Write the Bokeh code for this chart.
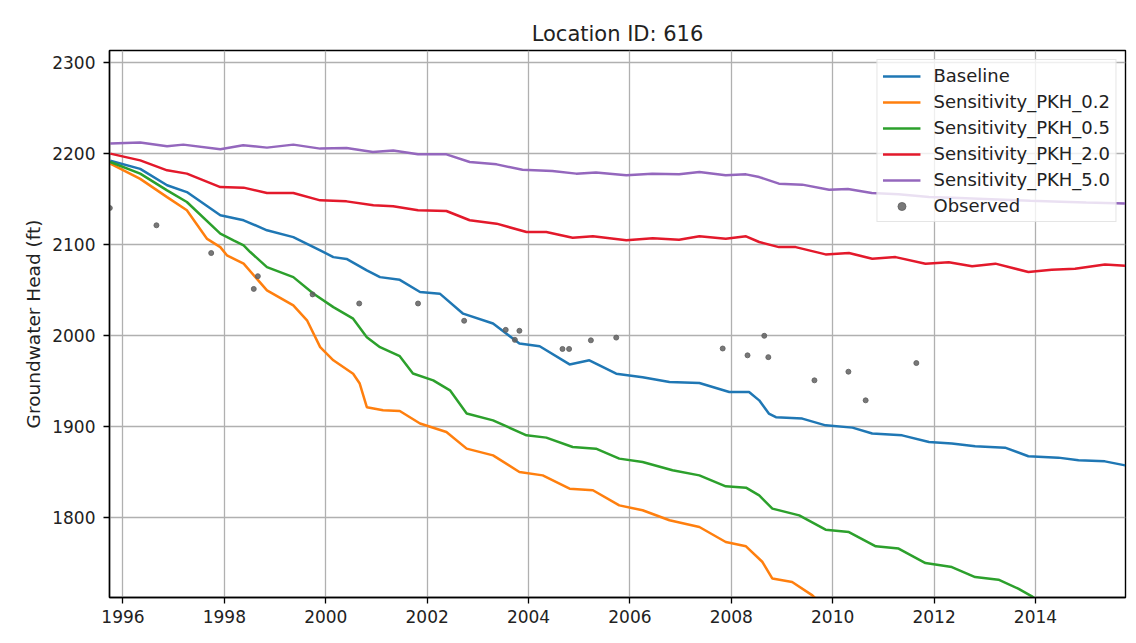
from bokeh.plotting import figure
from bokeh.models import Range1d, FixedTicker, Legend, LegendItem
from bokeh.embed import file_html
from bokeh.resources import INLINE

# ---------------- data (decimal years, feet) ----------------
base_x = [1995.75, 1996.34, 1996.87, 1997.26, 1997.92, 1998.38, 1998.84, 1999.36, 1999.89, 2000.15,
          2000.41, 2000.81, 2001.07, 2001.46, 2001.86, 2002.25, 2002.71, 2003.30, 2003.82, 2004.22,
          2004.81, 2005.20, 2005.73, 2006.25, 2006.78, 2007.37, 2007.96, 2008.35, 2008.55, 2008.74,
          2008.88, 2009.40, 2009.86, 2010.39, 2010.78, 2011.37, 2011.90, 2012.35, 2012.81, 2013.40,
          2013.86, 2014.45, 2014.85, 2015.37, 2015.77]
base_y = [2192.0, 2183.0, 2165.0, 2157.5, 2132.0, 2126.5, 2115.5, 2108.0, 2093.5, 2086.0,
          2084.0, 2071.5, 2064.0, 2061.0, 2047.6, 2045.8, 2023.8, 2013.0, 1991.0, 1988.0,
          1968.0, 1972.5, 1957.8, 1954.0, 1948.7, 1947.6, 1937.7, 1937.7, 1928.5, 1914.0,
          1910.0, 1908.4, 1901.0, 1898.5, 1892.0, 1890.0, 1882.7, 1881.0, 1878.0, 1876.5,
          1867.0, 1865.5, 1862.5, 1861.4, 1857.0]

pkh02_x = [1995.75, 1996.34, 1996.87, 1997.26, 1997.66, 1997.92, 1998.05, 1998.38, 1998.84, 1999.36,
           1999.63, 1999.89, 2000.15, 2000.54, 2000.67, 2000.81, 2001.13, 2001.46, 2001.86, 2002.38,
           2002.78, 2003.30, 2003.82, 2004.28, 2004.81, 2005.27, 2005.79, 2006.25, 2006.78, 2007.37,
           2007.89, 2008.29, 2008.61, 2008.81, 2009.20, 2009.60, 2009.90]
pkh02_y = [2188.8, 2172.0, 2152.0, 2137.5, 2106.0, 2097.0, 2088.0, 2078.8, 2049.5, 2033.0,
           2016.5, 1987.0, 1972.5, 1957.8, 1947.0, 1921.0, 1917.5, 1916.8, 1903.0, 1893.7,
           1875.4, 1868.0, 1849.7, 1846.0, 1831.4, 1829.6, 1813.0, 1807.6, 1796.6, 1789.2,
           1772.7, 1768.0, 1751.0, 1732.5, 1728.7, 1714.0, 1698.0]

pkh05_x = [1995.75, 1996.34, 1996.87, 1997.26, 1997.92, 1998.18, 1998.38, 1998.51, 1998.84, 1999.36,
           1999.76, 2000.15, 2000.54, 2000.81, 2001.07, 2001.46, 2001.72, 2002.12, 2002.45, 2002.78,
           2003.30, 2003.96, 2004.35, 2004.87, 2005.33, 2005.79, 2006.25, 2006.84, 2007.37, 2007.89,
           2008.29, 2008.55, 2008.81, 2009.34, 2009.86, 2010.32, 2010.85, 2011.30, 2011.83, 2012.35,
           2012.81, 2013.27, 2013.66, 2013.93, 2014.20]
pkh05_y = [2190.6, 2177.8, 2159.4, 2146.6, 2111.8, 2104.5, 2099.0, 2091.6, 2075.0, 2064.0,
           2045.8, 2031.0, 2018.3, 1998.0, 1987.0, 1977.0, 1958.0, 1950.5, 1939.5, 1914.0,
           1906.5, 1890.0, 1887.5, 1877.2, 1875.4, 1864.4, 1860.7, 1851.6, 1846.0, 1834.0,
           1832.5, 1824.0, 1809.4, 1802.0, 1786.3, 1783.7, 1768.0, 1765.5, 1749.6, 1745.2,
           1734.2, 1731.3, 1721.4, 1713.0, 1700.0]

pkh20_x = [1995.75, 1996.34, 1996.87, 1997.26, 1997.92, 1998.38, 1998.84, 1999.36, 1999.89, 2000.41,
           2000.94, 2001.33, 2001.82, 2002.38, 2002.84, 2003.37, 2003.96, 2004.35, 2004.87, 2005.27,
           2005.93, 2006.45, 2006.97, 2007.37, 2007.89, 2008.29, 2008.55, 2008.94, 2009.27, 2009.86,
           2010.32, 2010.78, 2011.24, 2011.83, 2012.29, 2012.75, 2013.21, 2013.86, 2014.32, 2014.78,
           2015.37, 2015.77]
pkh20_y = [2199.8, 2192.4, 2181.4, 2177.8, 2163.0, 2162.4, 2156.5, 2156.5, 2148.4, 2147.3,
           2143.0, 2142.0, 2137.5, 2136.7, 2126.5, 2122.8, 2113.6, 2113.6, 2107.4, 2108.9,
           2104.5, 2106.7, 2105.2, 2108.9, 2106.3, 2108.9, 2102.6, 2097.0, 2097.0, 2089.0,
           2090.5, 2084.3, 2086.0, 2078.8, 2080.3, 2075.9, 2078.8, 2069.6, 2072.2, 2073.3,
           2078.0, 2076.5]

pkh50_x = [1995.75, 1996.34, 1996.87, 1997.19, 1997.92, 1998.37, 1998.84, 1999.36, 1999.89, 2000.41,
           2000.93, 2001.33, 2001.82, 2002.38, 2002.84, 2003.37, 2003.88, 2004.47, 2004.94, 2005.33,
           2005.93, 2006.44, 2006.97, 2007.37, 2007.89, 2008.29, 2008.55, 2008.94, 2009.40, 2009.93,
           2010.30, 2010.77, 2011.30, 2011.90, 2012.50, 2013.00, 2013.90, 2014.50, 2015.00, 2015.77]
pkh50_y = [2210.8, 2212.0, 2208.0, 2209.7, 2204.5, 2209.0, 2206.4, 2209.7, 2205.3, 2206.0,
           2201.6, 2203.2, 2199.0, 2199.0, 2190.6, 2188.0, 2182.0, 2180.7, 2177.8, 2179.0,
           2176.0, 2177.8, 2177.0, 2179.6, 2176.0, 2177.0, 2174.0, 2166.8, 2165.7, 2160.0,
           2161.0, 2156.5, 2155.0, 2152.0, 2151.0, 2150.0, 2148.0, 2147.0, 2146.0, 2145.0]

obs_x = [1995.74, 1996.66, 1997.74, 1998.58, 1998.66, 1999.74, 2000.66, 2001.82, 2002.73, 2003.55,
         2003.73, 2003.82, 2004.67, 2004.80, 2005.23, 2005.73, 2007.83, 2008.32, 2008.65, 2008.73,
         2009.64, 2010.31, 2010.65, 2011.65]
obs_y = [2140.0, 2121.0, 2090.5, 2051.0, 2065.0, 2045.0, 2035.0, 2035.0, 2016.0, 2006.0,
         1995.0, 2005.0, 1985.0, 1985.0, 1994.5, 1997.5, 1985.5, 1978.0, 1999.5, 1976.0,
         1950.5, 1960.0, 1928.5, 1969.5]

x_ticks = [1996, 1998, 2000, 2002, 2004, 2006, 2008, 2010, 2012, 2014]
y_ticks = [1800, 1900, 2000, 2100, 2200, 2300]

series_names = ["Baseline", "Sensitivity_PKH_0.2", "Sensitivity_PKH_0.5",
                "Sensitivity_PKH_2.0", "Sensitivity_PKH_5.0"]
series_colors = ["#1f77b4", "#ff7f0e", "#2ca02c", "#e3192b", "#9467bd"]

# ---------------- figure ----------------
FONT = "DejaVu Sans"
p = figure(width=1136, height=643,
           x_range=Range1d(1995.734, 2015.776), y_range=Range1d(1711.7, 2313.2),
           output_backend="svg", toolbar_location=None,
           min_border_left=109, min_border_right=11, min_border_top=50, min_border_bottom=46,
           background_fill_color="white", border_fill_color="white")

p.title.text = "Location ID: 616"
p.title.align = "center"
p.title.text_font = FONT
p.title.text_font_size = "21px"
p.title.text_font_style = "normal"
p.title.text_color = "#222222"
p.title.standoff = 9

p.outline_line_color = "black"
p.outline_line_width = 1.4
p.outline_line_alpha = 1.0

p.xaxis.ticker = FixedTicker(ticks=x_ticks)
p.yaxis.ticker = FixedTicker(ticks=y_ticks)
for ax in (p.xaxis[0], p.yaxis[0]):
    ax.axis_line_color = "black"
    ax.axis_line_width = 1.4
    ax.major_tick_line_color = "black"
    ax.major_tick_line_width = 1.3
    ax.major_tick_out = 6
    ax.major_tick_in = 0
    ax.minor_tick_line_color = None
    ax.major_label_text_font = FONT
    ax.major_label_text_font_size = "17px"
    ax.major_label_text_color = "#222222"
p.yaxis.major_label_standoff = 8
p.xaxis.major_label_standoff = 6
p.yaxis.axis_label = "Groundwater Head (ft)"
p.yaxis.axis_label_text_font = FONT
p.yaxis.axis_label_text_font_size = "18.5px"
p.yaxis.axis_label_text_font_style = "normal"
p.yaxis.axis_label_text_color = "#222222"
p.yaxis.axis_label_standoff = 5

p.grid.grid_line_color = "#b0b0b0"
p.grid.grid_line_width = 1.3

renderers = []
for xs, ys, c in zip([base_x, pkh02_x, pkh05_x, pkh20_x, pkh50_x],
                     [base_y, pkh02_y, pkh05_y, pkh20_y, pkh50_y], series_colors):
    renderers.append(p.line(xs, ys, line_color=c, line_width=2.5))
r_obs = p.scatter(obs_x, obs_y, marker="circle", size=5, fill_color="#606060",
                  line_color="#606060", fill_alpha=0.85, line_alpha=0.85)

items = [LegendItem(label=n, renderers=[r]) for n, r in zip(series_names, renderers)]
items.append(LegendItem(label="Observed", renderers=[r_obs]))
legend = Legend(items=items, location="top_right", margin=9,
                label_text_font=FONT, label_text_font_size="18px", label_text_color="#222222",
                glyph_width=38, glyph_height=20, label_height=20, label_standoff=13,
                spacing=5, padding=5,
                background_fill_color="white", background_fill_alpha=0.8,
                border_line_color="#cccccc", border_line_width=1.2)
p.add_layout(legend)

open("out.html", "w").write(file_html(p, INLINE))
